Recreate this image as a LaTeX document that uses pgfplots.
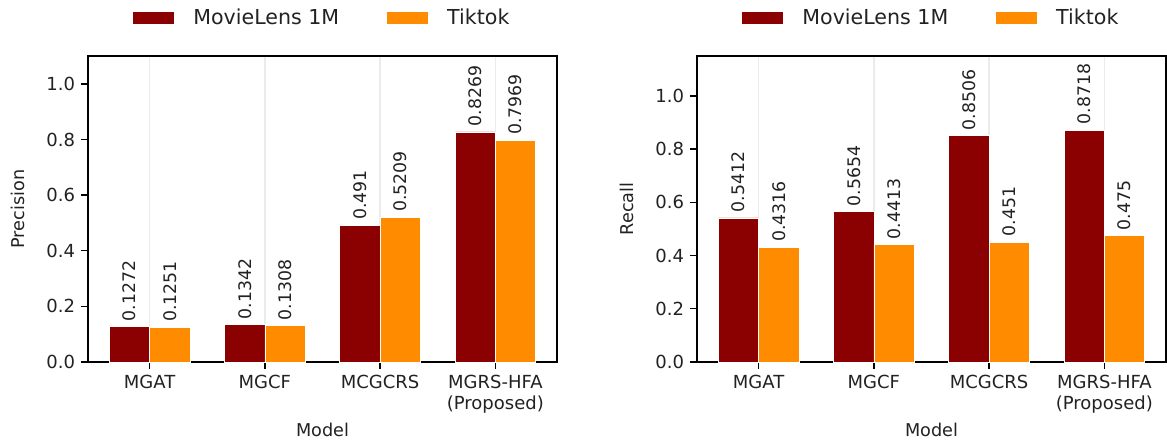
\documentclass[border=0pt]{standalone}
\usepackage{fontspec}
\setmainfont{DejaVu Sans}
\usepackage{pgfplots}
\pgfplotsset{compat=1.18}

\definecolor{mlred}{HTML}{8B0000}
\definecolor{ttorange}{HTML}{FF8C00}
\definecolor{gridgray}{HTML}{EBEBEB}
\definecolor{txt}{HTML}{222222}

% one drawing unit = 0.578pt
\newcommand{\U}{0.578pt}

\pgfplotsset{
  panel/.style={
    scale only axis,
    width=271.08pt, height=176.87pt,
    anchor=south west,
    xmin=-0.535, xmax=3.535, ymin=0,
    ybar,
    axis line style={line width=0.8pt, black},
    tick align=outside, major tick length=4pt,
    tick style={line width=0.8pt, black},
    xtick pos=bottom, ytick pos=left,
    xtick={0,1,2,3},
    xticklabels={MGAT,MGCF,MCGCRS,{MGRS-HFA\\(Proposed)}},
    xticklabel style={align=center, text=txt, font=\fontsize{10.4}{12.2}\selectfont},
    yticklabel style={text=txt, font=\fontsize{10.4}{12.2}\selectfont},
    ytick={0,0.2,0.4,0.6,0.8,1.0},
    /pgf/number format/assume math mode=true,
    yticklabel={\pgfmathprintnumber[fixed,fixed zerofill,precision=1]{\tick}},
    xmajorgrids, major grid style={gridgray, line width=0.8pt},
    xlabel={Model},
    xlabel style={at={(axis description cs:0.5,-0.222)}, anchor=center, text=txt, font=\fontsize{10.2}{12}\selectfont},
    ylabel style={at={(axis description cs:-0.149,0.5)}, anchor=center, text=txt, font=\fontsize{10.2}{12}\selectfont},
    legend style={at={(0.5,1.124)}, anchor=center, draw=none, fill=none,
      legend columns=2, text=txt, font=\fontsize{11.9}{14}\selectfont,
      /tikz/every even column/.append style={column sep=25pt}},
    nodes near coords,
    point meta=explicit symbolic,
    nodes near coords style={rotate=90, anchor=west, inner sep=3pt, text=txt,
      font=\fontsize{10}{12}\selectfont},
  },
  % filled patch plus blank room before the legend text
  barset/.style={bar width=0.35, fill=#1, draw=white, line width=0.4pt,
    legend image code/.code={\fill[##1] (0pt,-3.75pt) rectangle (24.3pt,3.75pt);
      \path (33pt,0pt);}},
}

\begin{document}
\begin{tikzpicture}
\path[use as bounding box] (0,0) rectangle (1167*\U, 439*\U);

% Precision
\begin{axis}[panel, at={(88*\U, 77*\U)}, ymax=1.1, ylabel={Precision}]
\addplot[barset=mlred, bar shift=-0.175] coordinates {
  (0,0.1272) [0.1272]
  (1,0.1342) [0.1342]
  (2,0.491)  [0.491]
  (3,0.8269) [0.8269]
};
\addplot[barset=ttorange, bar shift=0.175] coordinates {
  (0,0.1251) [0.1251]
  (1,0.1308) [0.1308]
  (2,0.5209) [0.5209]
  (3,0.7969) [0.7969]
};
\legend{MovieLens 1M, Tiktok}
\end{axis}

% Recall
\begin{axis}[panel, at={(697*\U, 77*\U)}, ymax=1.15, ylabel={Recall}]
\addplot[barset=mlred, bar shift=-0.175] coordinates {
  (0,0.5412) [0.5412]
  (1,0.5654) [0.5654]
  (2,0.8506) [0.8506]
  (3,0.8718) [0.8718]
};
\addplot[barset=ttorange, bar shift=0.175] coordinates {
  (0,0.4316) [0.4316]
  (1,0.4413) [0.4413]
  (2,0.451)  [0.451]
  (3,0.475)  [0.475]
};
\legend{MovieLens 1M, Tiktok}
\end{axis}
\end{tikzpicture}
\end{document}
